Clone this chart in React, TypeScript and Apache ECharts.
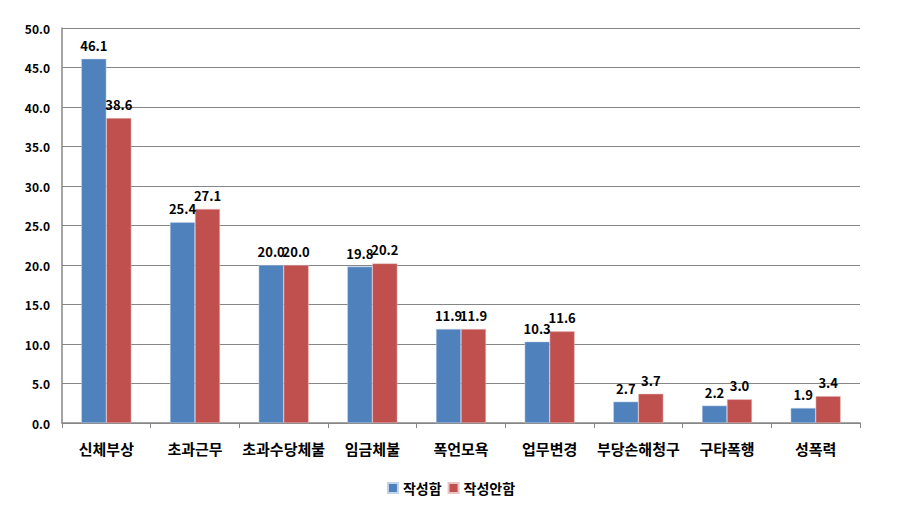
import React, { useEffect, useRef } from "react";
import * as echarts from "echarts";

const categories = ["신체부상", "초과근무", "초과수당체불", "임금체불", "폭언모욕", "업무변경", "부당손해청구", "구타폭행", "성폭력"];
const seriesNames = ["작성함", "작성안함"];
const written = [46.1, 25.4, 20.0, 19.8, 11.9, 10.3, 2.7, 2.2, 1.9];
const notWritten = [38.6, 27.1, 20.0, 20.2, 11.9, 11.6, 3.7, 3.0, 3.4];

const FONT = "'Noto Sans CJK KR', 'Noto Sans', sans-serif";

export default function App() {
  const ref = useRef<HTMLDivElement>(null);
  useEffect(() => {
    if (!ref.current) return;
    const chart = echarts.init(ref.current, null, { renderer: "svg" });
    const label = {
      show: true,
      position: "top" as const,
      distance: 7,
      color: "#000",
      fontWeight: "bold" as const,
      fontSize: 13,
      fontFamily: FONT,
      formatter: (p: any) => Number(p.value).toFixed(1),
    };
    chart.setOption({
      animation: false,
      grid: { left: 62, right: 42, top: 28, bottom: 88, containLabel: false },
      legend: {
        bottom: 11,
        left: "center",
        itemWidth: 10,
        itemHeight: 10,
        itemGap: 6,
        icon: "rect",
        textStyle: { fontFamily: FONT, fontSize: 14, color: "#000", fontWeight: "bold" },
        data: seriesNames,
      },
      xAxis: {
        type: "category",
        data: categories,
        axisLine: { lineStyle: { color: "#868686", width: 1.5 } },
        axisTick: { show: true, lineStyle: { color: "#868686" }, length: 5 },
        axisLabel: { color: "#000", fontSize: 15, fontWeight: "bold", fontFamily: FONT, margin: 18, interval: 0 },
      },
      yAxis: {
        type: "value",
        min: 0,
        max: 50,
        interval: 5,
        axisLine: { show: true, lineStyle: { color: "#868686", width: 1.5 } },
        axisTick: { show: false },
        splitLine: { lineStyle: { color: "#868686", width: 1 } },
        axisLabel: {
          color: "#000",
          fontSize: 12,
          fontWeight: "bold",
          fontFamily: FONT,
          margin: 12,
          formatter: (v: number) => v.toFixed(1),
        },
      },
      series: [
        {
          name: seriesNames[0],
          type: "bar",
          data: written,
          barWidth: 25,
          barGap: "0%",
          itemStyle: { color: "#4F81BD", borderColor: "#C5D3E8", borderWidth: 0.5 },
          label,
        },
        {
          name: seriesNames[1],
          type: "bar",
          data: notWritten,
          barWidth: 25,
          barGap: "0%",
          itemStyle: { color: "#C0504D", borderColor: "#E8C5C4", borderWidth: 0.5 },
          label,
        },
      ],
    });
    return () => chart.dispose();
  }, []);
  return <div ref={ref} style={{ width: 902, height: 511, position: "absolute", left: 0, top: 0 }} />;
}
